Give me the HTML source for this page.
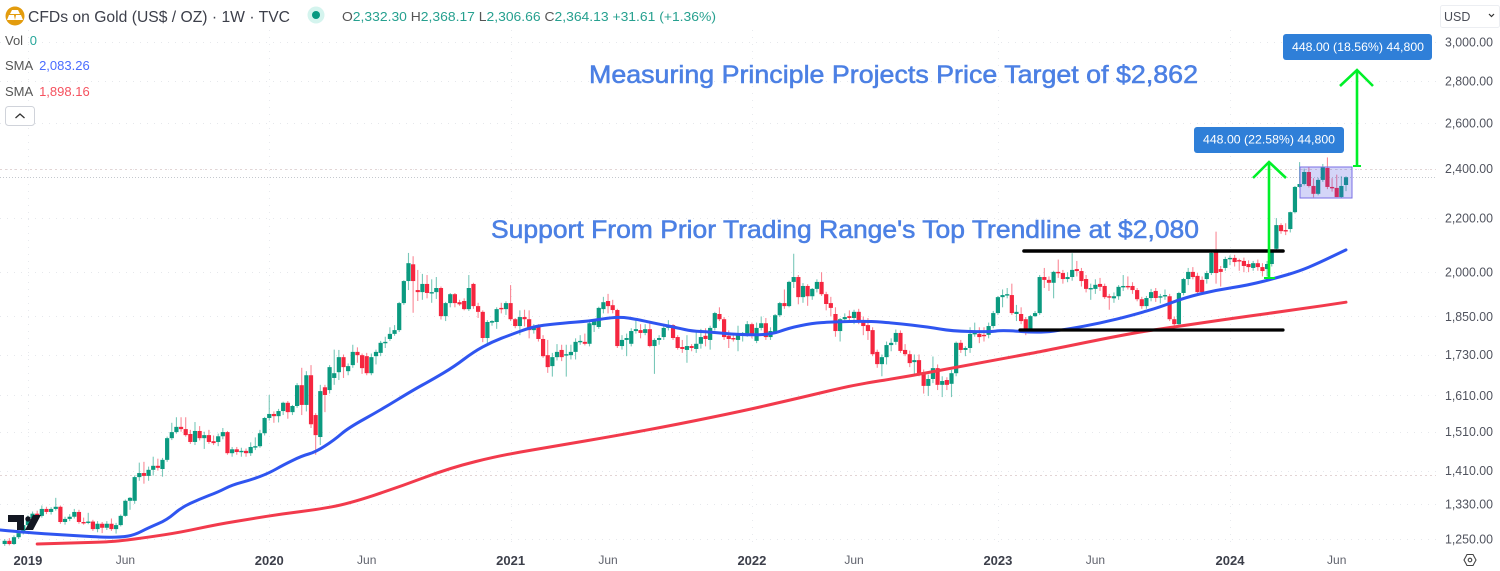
<!DOCTYPE html>
<html lang="en">
<head>
<meta charset="utf-8">
<title>CFDs on Gold weekly chart</title>
<style>
html,body{margin:0;padding:0;background:#fff;width:1500px;height:571px;overflow:hidden}
svg{display:block;font-family:"Liberation Sans",sans-serif}
</style>
</head>
<body>
<svg id="chart" xmlns="http://www.w3.org/2000/svg" width="1500" height="571" viewBox="0 0 1500 571">
  <rect x="0" y="0" width="1500" height="571" fill="#ffffff"/>
  <g id="grid"></g>
  <g id="candles"></g>
  <g id="sma-lines"></g>

  <line x1="1024" y1="251" x2="1283" y2="251" stroke="#000" stroke-width="3.6" stroke-linecap="round"/>
  <line x1="1020" y1="330" x2="1283" y2="330" stroke="#000" stroke-width="3.2" stroke-linecap="round"/>

  <g fill="none" stroke="#00f029" stroke-width="2.6">
    <path d="M1269 278V163"/>
    <path d="M1253 178L1269 162L1286 178"/>
    <path d="M1264 278H1275" stroke-width="2"/>
  </g>
  <g fill="none" stroke="#00f029" stroke-width="2.6">
    <path d="M1357 166V71"/>
    <path d="M1340 86L1357 70L1373 86"/>
    <path d="M1353 166H1361" stroke-width="2"/>
  </g>
  <rect x="1300" y="167" width="52" height="31" fill="#4a50e0" fill-opacity="0.24" stroke="#7a6fe6" stroke-width="1"/>

  <g>
    <rect x="1283" y="34" width="149" height="26" rx="3" fill="#2f7fd8"/>
    <text x="1292" y="51" font-size="12" fill="#fff" textLength="132" lengthAdjust="spacingAndGlyphs">448.00 (18.56%) 44,800</text>
  </g>
  <g>
    <rect x="1194" y="127" width="150" height="26" rx="3" fill="#2f7fd8"/>
    <text x="1203" y="143.500" font-size="12" fill="#fff" textLength="132" lengthAdjust="spacingAndGlyphs">448.00 (22.58%) 44,800</text>
  </g>

  <text x="589" y="83" font-size="25" fill="#4c80e4" stroke="#4c80e4" stroke-width="0.55" textLength="609" lengthAdjust="spacingAndGlyphs">Measuring Principle Projects Price Target of $2,862</text>
  <text x="491" y="238" font-size="25" fill="#4c80e4" stroke="#4c80e4" stroke-width="0.55" textLength="708" lengthAdjust="spacingAndGlyphs">Support From Prior Trading Range's Top Trendline at $2,080</text>

  <g fill="#131722">
    <path d="M8 515H24V530H17V522H8Z"/>
    <circle cx="28" cy="519" r="2.700"/>
    <path d="M33 515H41L33 530H25Z"/>
  </g>

  <g>
    <circle cx="15" cy="16" r="9.500" fill="#e39c0e"/>
    <path d="M12 10H18L20 14H10Z M7 20L9 15H14L15 20Z M15 20L16 15H21L23 20Z" fill="#fff"/>
  </g>
  <text x="28" y="22" font-size="16" fill="#3c3f4a" textLength="262" lengthAdjust="spacingAndGlyphs">CFDs on Gold (US$ / OZ) · 1W · TVC</text>
  <g>
    <circle cx="316" cy="15" r="8.500" fill="#d4f4ee"/>
    <circle cx="316" cy="15" r="4" fill="#089981"/>
  </g>
  <text x="342" y="21" font-size="13" fill="#26a08f" textLength="374" lengthAdjust="spacingAndGlyphs"><tspan fill="#555">O</tspan>2,332.30 <tspan fill="#555">H</tspan>2,368.17 <tspan fill="#555">L</tspan>2,306.66 <tspan fill="#555">C</tspan>2,364.13 +31.61 (+1.36%)</text>

  <text x="5" y="45" font-size="13" fill="#555">Vol <tspan dx="3" fill="#26a69a">0</tspan></text>
  <text x="5" y="70" font-size="13" fill="#555">SMA <tspan dx="3" fill="#4a6cff">2,083.26</tspan></text>
  <text x="5" y="96" font-size="13" fill="#555">SMA <tspan dx="3" fill="#f5525f">1,898.16</tspan></text>
  <g>
    <rect x="5.500" y="106.500" width="29" height="19" rx="3" fill="#fff" stroke="#d0d3da"/>
    <path d="M15.500 118L20 114L24.500 118" fill="none" stroke="#333" stroke-width="1.300"/>
  </g>

  <g>
    <rect x="1440.500" y="5.500" width="59" height="22" rx="2" fill="#fff" stroke="#eceef2"/>
    <text x="1444" y="21" font-size="12.500" fill="#4a4d57">USD</text>
    <path d="M1489 14L1491.500 16.500L1494 14" fill="none" stroke="#333" stroke-width="1.200"/>
  </g>
  <g id="y-axis"></g>
  <g id="x-axis"></g>
  <g fill="none" stroke="#444" stroke-width="1.100">
    <path d="M1464 560L1467 554.500H1473L1476 560L1473 565.500H1467Z"/>
    <circle cx="1470" cy="560" r="1.800"/>
  </g>
</svg>

<script>
const opens = [
1239,1246,1239,1254,1263,1281,1297,1307,1302,1318,
1311,1318,1323,1288,1295,1300,1311,1288,1286,1289,
1272,1284,1275,1284,1272,1281,1302,1337,1337,1394,
1404,1397,1412,1422,1414,1437,1493,1509,1523,1517,
1504,1483,1512,1493,1501,1485,1483,1498,1509,1454,
1464,1457,1460,1454,1470,1472,1506,1547,1558,1552,
1566,1589,1563,1580,1639,1583,1668,1555,1496,1633,
1625,1660,1677,1722,1680,1698,1738,1728,1725,1674,
1725,1735,1766,1778,1794,1806,1894,1969,2028,1938,
1931,1959,1928,1931,1945,1851,1894,1924,1897,1901,
1874,1959,1884,1865,1781,1830,1832,1878,1874,1894,
1841,1819,1848,1841,1806,1819,1778,1728,1695,1722,
1744,1728,1728,1738,1769,1769,1763,1822,1816,1874,
1901,1887,1871,1756,1775,1763,1803,1806,1797,1809,
1756,1775,1784,1813,1822,1784,1753,1744,1756,1747,
1763,1788,1775,1813,1858,1841,1788,1781,1775,1791,
1791,1825,1772,1813,1828,1784,1800,1854,1894,1884,
1966,1983,1914,1952,1917,1942,1966,1924,1894,1858,
1803,1841,1851,1845,1865,1835,1822,1806,1738,1701,
1722,1759,1769,1797,1744,1731,1707,1713,1677,1637,
1657,1689,1640,1654,1643,1674,1766,1744,1750,1794,
1794,1791,1791,1819,1861,1914,1921,1921,1858,1858,
1841,1809,1851,1861,1983,1973,1963,2001,1997,1976,
1983,2011,2004,1976,1942,1942,1959,1952,1917,1910,
1917,1949,1952,1952,1938,1907,1884,1911,1935,1914,
1917,1917,1841,1825,1928,1976,2001,1987,1973,1976,
1997,2076,2011,2015,2047,2051,2043,2040,2029,2015,
2032,2018,2011,2029,2084,2173,2154,2158,2223,2324,
2336,2386,2328,2296,2353,2403,2324,2320,2283,2332
];
const highs = [
1250,1252,1258,1268,1286,1303,1312,1314,1326,1323,
1322,1344,1326,1300,1306,1318,1316,1298,1309,1293,
1290,1288,1290,1296,1286,1305,1340,1346,1398,1430,
1432,1420,1445,1440,1442,1497,1534,1549,1549,1549,
1515,1536,1525,1510,1515,1500,1505,1520,1512,1470,
1470,1468,1466,1482,1495,1515,1550,1611,1565,1572,
1592,1594,1583,1645,1690,1680,1698,1560,1640,1640,
1698,1745,1744,1730,1703,1760,1752,1733,1735,1733,
1745,1772,1785,1815,1822,1898,1972,2069,2057,2008,
1994,1990,1975,1983,1950,1898,1928,1928,1905,1910,
1990,1963,1895,1870,1838,1838,1880,1895,1900,1955,
1845,1870,1872,1870,1825,1825,1790,1775,1735,1762,
1760,1760,1760,1780,1790,1795,1835,1838,1882,1915,
1925,1905,1875,1790,1795,1812,1845,1825,1825,1835,
1780,1790,1825,1838,1825,1790,1775,1790,1762,1800,
1810,1812,1820,1865,1880,1848,1805,1790,1820,1800,
1835,1830,1830,1850,1845,1815,1858,1898,1940,1970,
2066,1990,1962,1958,1945,1975,2000,1932,1915,1880,
1845,1860,1870,1872,1875,1850,1845,1815,1745,1730,
1770,1780,1808,1805,1762,1742,1730,1730,1685,1670,
1724,1700,1665,1662,1684,1770,1775,1755,1815,1830,
1815,1815,1830,1868,1918,1940,1945,1960,1888,1880,
1848,1855,1868,1990,2015,1985,2005,2045,2008,2000,
2068,2040,2015,1990,1960,1975,1980,1960,1925,1930,
1955,1990,1985,1965,1945,1915,1918,1942,1945,1925,
1940,1925,1850,1932,1980,2015,2018,1997,1985,2005,
2075,2148,2022,2055,2060,2062,2048,2052,2042,2040,
2045,2032,2040,2078,2200,2180,2180,2225,2328,2428,
2400,2405,2360,2362,2420,2448,2360,2375,2368,2368
];
const lows = [
1235,1236,1237,1250,1260,1276,1292,1295,1298,1306,
1305,1314,1284,1282,1290,1296,1284,1282,1283,1268,
1265,1263,1270,1268,1262,1278,1300,1316,1330,1385,
1378,1385,1398,1410,1395,1432,1488,1505,1510,1497,
1478,1475,1487,1465,1478,1475,1472,1490,1450,1445,
1450,1445,1445,1447,1462,1468,1500,1540,1534,1535,
1555,1545,1555,1575,1555,1565,1520,1450,1475,1563,
1615,1640,1654,1660,1668,1690,1705,1672,1668,1668,
1700,1725,1750,1772,1788,1800,1888,1938,1862,1901,
1905,1910,1895,1908,1840,1835,1880,1880,1885,1870,
1868,1875,1845,1768,1763,1820,1810,1860,1855,1835,
1812,1790,1818,1780,1795,1770,1720,1675,1664,1712,
1710,1664,1715,1715,1760,1758,1755,1800,1810,1860,
1860,1860,1750,1745,1725,1755,1795,1780,1790,1752,
1672,1760,1775,1805,1775,1745,1735,1705,1740,1735,
1748,1755,1745,1805,1835,1775,1750,1770,1740,1770,
1785,1780,1765,1805,1775,1775,1795,1848,1875,1880,
1945,1890,1895,1885,1905,1930,1918,1870,1850,1785,
1770,1835,1835,1825,1825,1790,1775,1725,1690,1665,
1700,1740,1760,1735,1725,1692,1670,1665,1615,1608,
1645,1625,1605,1625,1605,1665,1735,1725,1735,1785,
1765,1770,1780,1812,1855,1880,1910,1855,1835,1825,
1790,1803,1848,1855,1945,1935,1910,1980,1960,1965,
1970,1985,1950,1930,1905,1925,1935,1908,1872,1895,
1905,1935,1940,1925,1900,1875,1875,1900,1898,1893,
1905,1835,1815,1818,1920,1955,1975,1928,1925,1960,
1990,1960,1950,2005,2025,2020,2005,2000,2000,2005,
2005,1985,1985,2020,2078,2140,2135,2145,2218,2320,
2330,2322,2282,2290,2345,2315,2305,2283,2280,2307
];
const closes = [
1246,1239,1254,1263,1281,1297,1307,1300,1318,1311,
1318,1323,1288,1295,1300,1311,1288,1286,1289,1272,
1284,1275,1284,1272,1281,1302,1337,1344,1394,1404,
1397,1412,1422,1417,1437,1493,1509,1523,1517,1501,
1483,1512,1493,1501,1483,1480,1498,1509,1454,1464,
1457,1460,1454,1470,1472,1506,1547,1558,1552,1566,
1589,1563,1580,1639,1583,1668,1530,1501,1622,1611,
1692,1674,1722,1692,1695,1738,1728,1689,1674,1722,
1738,1766,1769,1794,1806,1894,1969,2032,1969,1931,
1959,1928,1931,1945,1851,1894,1924,1894,1890,1874,
1945,1884,1865,1781,1832,1835,1874,1874,1894,1841,
1819,1848,1841,1806,1819,1778,1725,1692,1722,1738,
1722,1731,1738,1769,1772,1763,1828,1835,1878,1897,
1884,1871,1756,1775,1781,1803,1809,1797,1809,1756,
1775,1781,1813,1822,1781,1750,1747,1756,1750,1763,
1784,1778,1813,1861,1841,1784,1778,1778,1794,1797,
1825,1788,1813,1828,1784,1803,1854,1894,1884,1966,
1983,1914,1952,1917,1942,1966,1924,1891,1878,1803,
1841,1848,1845,1865,1832,1819,1803,1731,1701,1722,
1759,1766,1797,1741,1731,1704,1713,1674,1637,1657,
1689,1640,1651,1640,1674,1766,1744,1750,1794,1797,
1784,1788,1819,1861,1914,1921,1924,1861,1865,1835,
1809,1851,1861,1983,1973,1963,2001,1997,1976,1983,
2008,2004,1969,1942,1945,1956,1949,1914,1914,1917,
1949,1952,1949,1938,1907,1884,1911,1931,1911,1917,
1921,1841,1825,1928,1976,2001,1983,1931,1931,1997,
2069,1997,2001,2047,2051,2036,2040,2022,2018,2032,
2018,2004,2029,2076,2173,2150,2150,2223,2324,2336,
2386,2328,2296,2353,2407,2324,2320,2283,2328,2364
];

const smaFastWeeks = [-1,6,13,21,25,28,31,35,38,42,46,49,53,57,60,64,67,71,74,81,88,92,97,101,105,109,113,116,120,126,130,133,136,141,145,148,152,158,165,169,174,178,186,192,199,204,212,215,223,229,236,243,249,254,261,268,274,279,283,289];
const smaFastValues = [1270,1263,1259,1254,1254,1259,1275,1293,1321,1341,1358,1375,1387,1404,1424,1447,1457,1488,1520,1569,1625,1654,1695,1738,1769,1791,1813,1822,1828,1835,1845,1848,1841,1825,1813,1803,1800,1791,1791,1813,1828,1832,1835,1828,1816,1803,1800,1806,1797,1809,1828,1854,1881,1911,1938,1955,1980,2004,2032,2080];
const smaSlowWeeks = [7,13,21,25,31,38,46,53,60,67,74,85,96,107,120,131,145,160,172,183,194,204,219,223,243,252,265,279,289];
const smaSlowValues = [1239,1241,1243,1246,1254,1265,1283,1295,1307,1316,1330,1370,1417,1449,1475,1498,1530,1569,1605,1640,1663,1689,1728,1738,1797,1816,1845,1874,1897];

const priceTicks = [3000,2800,2600,2400,2200,2000,1850,1730,1610,1510,1410,1330,1250];
const timeTickLabels = ["2019","Jun","2020","Jun","2021","Jun","2022","Jun","2023","Jun","2024","Jun"];
const timeTickWeeks = [5,26,57,78,109,130,161,183,214,235,264,287];
const yearGridWeeks = [5,57,109,161,214,264];
const lastPrice = [2364];
const highlightedLevels = [2400,1400];

const NS = "http://www.w3.org/2000/svg";
const weekCount = closes.length;
const firstX = 4.7;
const lastX = 1346;
function xOf(week){ return firstX + week * (lastX - firstX) / (weekCount - 1); }
function yOf(price){ return 42 + 567.7 * Math.log(3000 / price); }
function make(tag, attrs){
  const el = document.createElementNS(NS, tag);
  for (const k in attrs) el.setAttribute(k, attrs[k]);
  return el;
}
function fmt(v){ return v.toLocaleString("en-US", {minimumFractionDigits:2, maximumFractionDigits:2}); }

const gridLayer = document.getElementById("grid");
priceTicks.forEach(function(p){
  const y = Math.round(yOf(p)) + 0.5;
  const ln = make("line", {x1:0, x2:1436, y1:y, y2:y, stroke:"#e6e8ec", "stroke-width":1, "stroke-dasharray":"1 6"});
  
  
  gridLayer.appendChild(ln);
});
yearGridWeeks.forEach(function(w){
  const x = Math.round(xOf(w)) + 0.5;
  const ln = make("line", {x1:x, x2:x, y1:30, y2:545, stroke:"#e8eaee", "stroke-width":1, "stroke-dasharray":"1 6"});
  
  
  gridLayer.appendChild(ln);
});
highlightedLevels.forEach(function(p){
  const y = Math.round(yOf(p)) + 0.5;
  const ln = make("line", {x1:0, x2:1436, y1:y, y2:y, stroke:"#e2d4d4", "stroke-width":1, "stroke-dasharray":"2 3"});
  
  
  gridLayer.appendChild(ln);
});
lastPrice.forEach(function(p){
  const y = Math.round(yOf(p)) + 0.5;
  const ln = make("line", {x1:0, x2:1436, y1:y, y2:y, stroke:"#c4c8ce", "stroke-width":1, "stroke-dasharray":"1 2"});
  
  
  gridLayer.appendChild(ln);
});

const candleLayer = document.getElementById("candles");
for (let i = 0; i < weekCount; i++) {
  const up = closes[i] >= opens[i];
  const col = up ? "#0b9a80" : "#f5263f";
  const cx = xOf(i);
  const g = make("g", {});
  
  
  const wick = make("line", {x1:cx, x2:cx, y1:yOf(highs[i]), y2:yOf(lows[i]), stroke:col, "stroke-width":1.1, "stroke-opacity":0.55});
  
  
  g.appendChild(wick);
  const top = yOf(Math.max(opens[i], closes[i]));
  const bot = yOf(Math.min(opens[i], closes[i]));
  const body = make("rect", {x:cx - 2.1, y:top, width:4.2, height:Math.max(bot - top, 1.4), fill:col});
  
  
  g.appendChild(body);
  candleLayer.appendChild(g);
}

function smoothPath(weeks, values){
  const pts = weeks.map(function(w, i){ return [Math.max(xOf(w), 0), yOf(values[i])]; });
  let d = "M" + pts[0][0].toFixed(1) + " " + pts[0][1].toFixed(1);
  for (let i = 1; i < pts.length - 1; i++) {
    const mx = (pts[i][0] + pts[i + 1][0]) / 2;
    const my = (pts[i][1] + pts[i + 1][1]) / 2;
    d += "Q" + pts[i][0].toFixed(1) + " " + pts[i][1].toFixed(1) + " " + mx.toFixed(1) + " " + my.toFixed(1);
  }
  const last = pts[pts.length - 1];
  d += "L" + last[0].toFixed(1) + " " + last[1].toFixed(1);
  return d;
}
const smaLayer = document.getElementById("sma-lines");
const slowLine = make("path", {d:smoothPath(smaSlowWeeks, smaSlowValues), fill:"none", stroke:"#f23a4c", "stroke-width":3, "stroke-linejoin":"round", "stroke-linecap":"round"});


smaLayer.appendChild(slowLine);
const fastLine = make("path", {d:smoothPath(smaFastWeeks, smaFastValues), fill:"none", stroke:"#2f55f0", "stroke-width":3, "stroke-linejoin":"round", "stroke-linecap":"round"});


smaLayer.appendChild(fastLine);

const yAxis = document.getElementById("y-axis");
priceTicks.forEach(function(p){
  const t = make("text", {x:1445, y:yOf(p) + 4.5, "font-size":13, fill:"#50535e", textLength:48, lengthAdjust:"spacingAndGlyphs"});
  
  
  t.textContent = fmt(p);
  yAxis.appendChild(t);
});

const xAxis = document.getElementById("x-axis");
timeTickLabels.forEach(function(label, i){
  const isYear = label !== "Jun";
  const t = make("text", {x:xOf(timeTickWeeks[i]), y:isYear ? 565 : 564, "font-size":isYear ? 13 : 12, "text-anchor":"middle", "font-weight":isYear ? "bold" : "normal", fill:isYear ? "#3c3f4a" : "#5f626c"});
  
  
  t.textContent = label;
  xAxis.appendChild(t);
});
</script>
</body>
</html>
